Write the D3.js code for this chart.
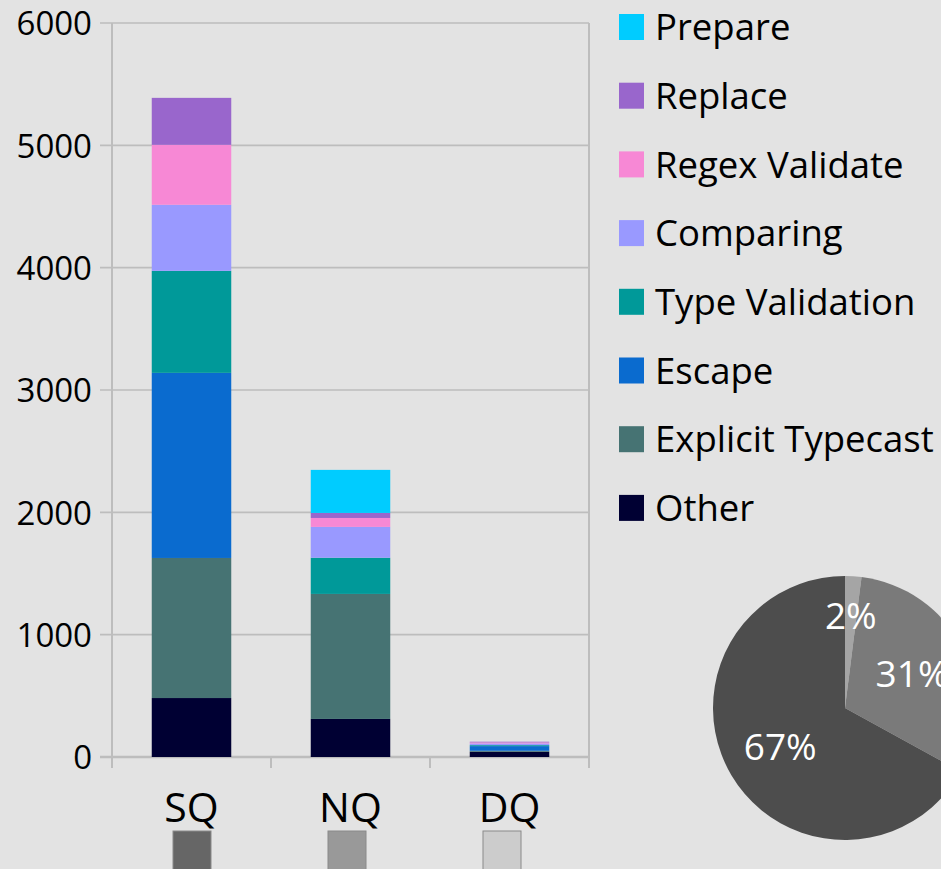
<!DOCTYPE html>
<html>
<head>
<meta charset="utf-8">
<script src="https://cdn.jsdelivr.net/npm/d3@7"></script>
<style>
  html, body { margin: 0; padding: 0; background: #e3e3e3; }
  svg { display: block; font-family: "Open Sans", "Noto Sans", sans-serif; }
</style>
</head>
<body>
<svg id="chart" width="941" height="869"></svg>
<script>
// Query categories and the cost of each sanitisation step, stacked bottom to top
const categories = ["SQ", "NQ", "DQ"];
const seriesNames = ["Other", "Explicit Typecast", "Escape", "Type Validation",
                     "Comparing", "Regex Validate", "Replace", "Prepare"];
const other            = [482, 311, 43];
const explicitTypecast = [1145, 1022, 8];
const escape           = [1513, 0, 38];
const typeValidation   = [834, 296, 8];
const comparing        = [540, 252, 14];
const regexValidate    = [490, 73, 8];
const replace          = [384, 41, 6];
const prepare          = [0, 352, 0];
const yTicks = [0, 1000, 2000, 3000, 4000, 5000, 6000];

// Share of each query type
const pieLabels = ["SQ", "NQ", "DQ"];
const pieValues = [67, 31, 2];

const seriesColors = {
  "Other": "#000033",
  "Explicit Typecast": "#467373",
  "Escape": "#0a6bcf",
  "Type Validation": "#009999",
  "Comparing": "#9999ff",
  "Regex Validate": "#f788d5",
  "Replace": "#9966cc",
  "Prepare": "#00ccff"
};
const categoryColors = { "SQ": "#666666", "NQ": "#999999", "DQ": "#cccccc" };
const pieColors = { "SQ": "#4d4d4d", "NQ": "#7a7a7a", "DQ": "#a5a5a5" };

const seriesValues = [other, explicitTypecast, escape, typeValidation,
                      comparing, regexValidate, replace, prepare];
const rows = categories.map((c, i) => {
  const r = { category: c };
  seriesNames.forEach((s, j) => { r[s] = seriesValues[j][i]; });
  return r;
});

const svg = d3.select("#chart");
const plot = { left: 112, right: 589, top: 23, bottom: 757 };

const x = d3.scaleBand().domain(categories)
  .range([plot.left, plot.right]).paddingInner(0.5).paddingOuter(0.25);
const y = d3.scaleLinear().domain([0, 6000]).range([plot.bottom, plot.top]);

const gridColor = "#bdbdbd";

// Horizontal gridlines with short ticks on the left
svg.append("g").selectAll("line").data(yTicks).join("line")
  .attr("x1", plot.left - 12).attr("x2", plot.right)
  .attr("y1", d => y(d)).attr("y2", d => y(d))
  .attr("stroke", gridColor).attr("stroke-width", d => d === 0 ? 2.5 : 1.6);

// Left axis and right border
[plot.left, plot.right].forEach(px => {
  svg.append("line")
    .attr("x1", px).attr("x2", px).attr("y1", plot.top).attr("y2", plot.bottom + 11)
    .attr("stroke", gridColor).attr("stroke-width", 2);
});

// Category boundary ticks below the baseline
const step = (plot.right - plot.left) / categories.length;
svg.append("g").selectAll("line").data(d3.range(1, categories.length)).join("line")
  .attr("x1", d => plot.left + d * step).attr("x2", d => plot.left + d * step)
  .attr("y1", plot.bottom).attr("y2", plot.bottom + 11)
  .attr("stroke", gridColor).attr("stroke-width", 2);

// Y axis labels
const yAxis = d3.axisLeft(y).tickValues(yTicks).tickSize(0).tickPadding(0)
  .tickFormat(d3.format("d"));
const yg = svg.append("g").attr("transform", `translate(${plot.left - 20},0)`).call(yAxis);
yg.select(".domain").remove();
yg.selectAll("text").attr("font-size", 33).attr("fill", "#000")
  .attr("font-family", "'Open Sans', sans-serif").attr("dy", "0.36em");

// Stacked bars
const stack = d3.stack().keys(seriesNames);
const layers = stack(rows);
svg.append("g").selectAll("g").data(layers).join("g")
  .attr("fill", d => seriesColors[d.key])
  .selectAll("rect").data(d => d).join("rect")
  .attr("x", d => x(d.data.category))
  .attr("width", x.bandwidth())
  .attr("y", d => y(d[1]))
  .attr("height", d => y(d[0]) - y(d[1]));

// Category labels
svg.append("g").selectAll("text").data(categories).join("text")
  .text(d => d)
  .attr("x", d => x(d) + x.bandwidth() / 2)
  .attr("y", 822).attr("text-anchor", "middle")
  .attr("font-size", 41).attr("fill", "#000");

// Colour swatches for each query type below the labels
const swatchX = d3.scalePoint().domain(categories).range([192, 502]);
svg.append("g").selectAll("rect").data(categories).join("rect")
  .attr("x", d => swatchX(d) - 19).attr("y", 831).attr("width", 38).attr("height", 45)
  .attr("fill", d => categoryColors[d])
  .attr("stroke", "#8a8a8a").attr("stroke-width", 1);

// Legend, top entry first
const legendOrder = seriesNames.slice().reverse();
const lg = svg.append("g").selectAll("g").data(legendOrder).join("g")
  .attr("transform", (d, i) => `translate(619,${27 + i * 68.7})`);
lg.append("rect").attr("x", 0).attr("y", -13).attr("width", 25).attr("height", 26)
  .attr("fill", d => seriesColors[d]);
lg.append("text").text(d => d)
  .attr("x", 36).attr("y", 0).attr("dy", "0.36em")
  .attr("font-size", 36.5).attr("fill", "#000");

// Pie of query-type shares
const pieData = pieLabels.map((l, i) => ({ label: l, value: pieValues[i] }));
const pie = d3.pie().value(d => d.value).sort(null)
  .startAngle(0).endAngle(2 * Math.PI);
const arcs = pie(pieData.slice().reverse());
const radius = 132;
const arc = d3.arc().innerRadius(0).outerRadius(radius);
// Thin slices get their label pushed further out
const labelRadius = d => radius * (d.data.value < 5 ? 0.7 : 0.57);
const pg = svg.append("g").attr("transform", "translate(845,708)");
pg.selectAll("path").data(arcs).join("path")
  .attr("d", arc).attr("fill", d => pieColors[d.data.label]);
pg.selectAll("text").data(arcs).join("text")
  .attr("transform", d => {
    const r = labelRadius(d);
    const [cx, cy] = d3.arc().innerRadius(r).outerRadius(r).centroid(d);
    return `translate(${cx},${cy})`;
  })
  .attr("text-anchor", "middle").attr("dy", "0.36em")
  .attr("font-size", 37).attr("fill", "#fff")
  .text(d => d.data.value + "%");
</script>
</body>
</html>
